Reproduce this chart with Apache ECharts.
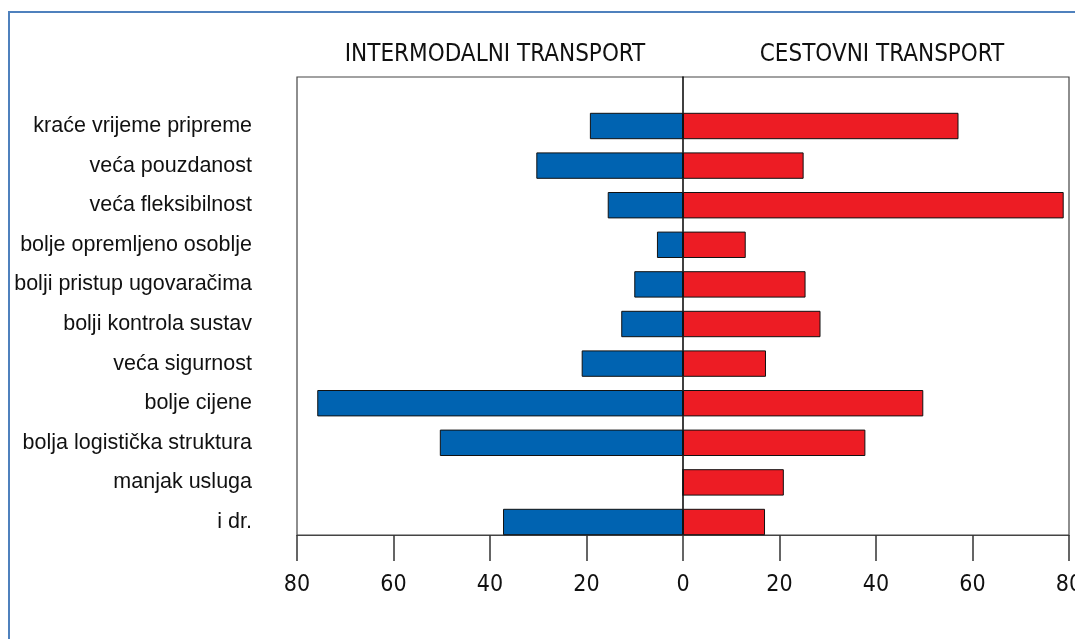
<!DOCTYPE html>
<html>
<head>
<meta charset="utf-8">
<script src="https://cdn.jsdelivr.net/npm/echarts@6/dist/echarts.min.js"></script>
<style>html,body{margin:0;padding:0;background:#fff;}#c{width:1075px;height:639px;}</style>
</head>
<body>
<div id="c"></div>
<script>
const categories = ['kraće vrijeme pripreme','veća pouzdanost','veća fleksibilnost','bolje opremljeno osoblje','bolji pristup ugovaračima','bolji kontrola sustav','veća sigurnost','bolje cijene','bolja logistička struktura','manjak usluga','i dr.'];
const intermodalni = [19.3, 30.4, 15.6, 5.4, 10.1, 12.8, 21.0, 75.8, 50.4, 0, 37.3];
const cestovni = [57.1, 25.0, 78.9, 13.0, 25.4, 28.5, 17.2, 49.8, 37.8, 20.9, 17.0];
const titles = ['INTERMODALNI TRANSPORT', 'CESTOVNI TRANSPORT'];
const xTicks = [-80, -60, -40, -20, 0, 20, 40, 60, 80];

const narrow = "'DejaVu Sans Condensed','Liberation Sans Narrow',sans-serif";
const regular = "'Liberation Sans',Arial,sans-serif";
const chart = echarts.init(document.getElementById('c'));
chart.setOption({
  animation: false,
  backgroundColor: '#fff',
  title: [
    {text: titles[0], left: 490, top: 38, textAlign: 'center', textStyle: {fontFamily: narrow, fontSize: 24, fontWeight: 'normal', color: '#111'}},
    {text: titles[1], left: 877, top: 38, textAlign: 'center', textStyle: {fontFamily: narrow, fontSize: 24, fontWeight: 'normal', color: '#111'}}
  ],
  graphic: [
    {type: 'rect', shape: {x: 9, y: 12, width: 1200, height: 800}, style: {fill: 'none', stroke: '#4f81bd', lineWidth: 2}, silent: true, z: 0}
  ],
  grid: [
    {left: 297, right: 6, top: 77, bottom: 104, show: true, borderColor: '#444', borderWidth: 1.2, backgroundColor: 'transparent', outerBoundsMode: 'none', containLabel: false},
    {left: 297, right: 6, top: 106.2, height: 435.6, outerBoundsMode: 'none', containLabel: false}
  ],
  xAxis: [
    {type: 'value', gridIndex: 0, min: -80, max: 80, interval: 20,
     axisLine: {show: true, lineStyle: {color: '#444', width: 1.2}},
     axisTick: {show: true, length: 26, lineStyle: {color: '#333', width: 1.5}},
     splitLine: {show: false},
     axisLabel: {margin: 39, fontFamily: narrow, fontSize: 23, color: '#111', hideOverlap: false,
                 formatter: v => xTicks.indexOf(v) >= 0 ? String(Math.abs(v)) : ''}},
    {type: 'value', gridIndex: 1, min: -80, max: 80, show: false}
  ],
  yAxis: [
    {type: 'value', gridIndex: 0, min: 0, max: 1,
     axisLine: {show: true, onZero: true, lineStyle: {color: '#000', width: 1.5}},
     axisTick: {show: false}, axisLabel: {show: false}, splitLine: {show: false}},
    {type: 'category', gridIndex: 1, data: categories, inverse: true,
     axisLine: {show: false}, axisTick: {show: false},
     axisLabel: {margin: 45, fontFamily: regular, fontSize: 21.5, color: '#111', padding: [4, 0, 0, 0]}}
  ],
  series: [
    {type: 'bar', xAxisIndex: 1, yAxisIndex: 1, name: titles[0],
     data: intermodalni.map(v => -v), barWidth: 26.4, barGap: '-100%',
     itemStyle: {color: '#0063b1', borderColor: '#111', borderWidth: 1}},
    {type: 'bar', xAxisIndex: 1, yAxisIndex: 1, name: titles[1],
     data: cestovni, barWidth: 26.4, barGap: '-100%',
     itemStyle: {color: '#ed1c24', borderColor: '#111', borderWidth: 1}}
  ]
});
</script>
</body>
</html>
